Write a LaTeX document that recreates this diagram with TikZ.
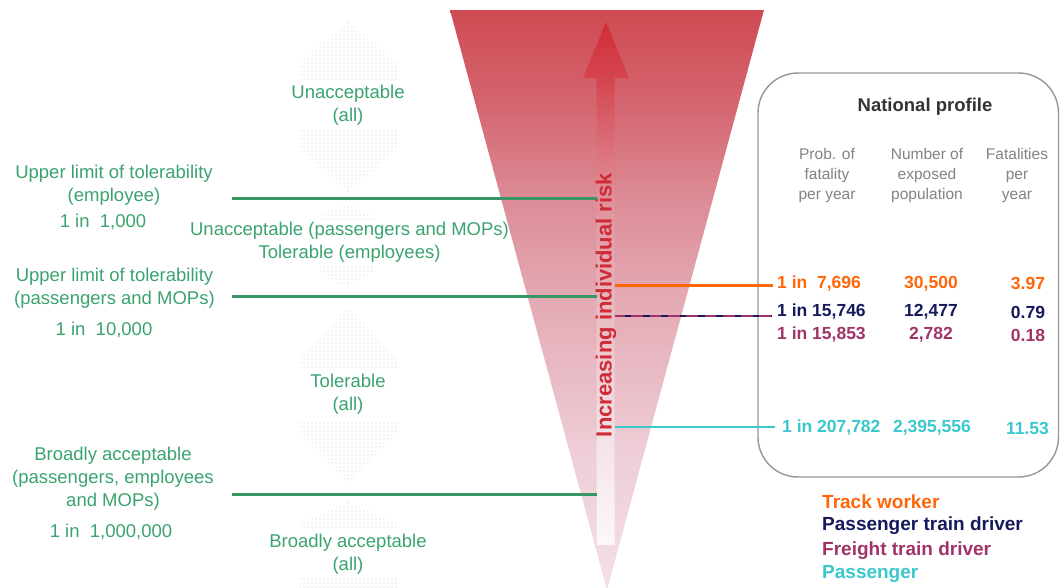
\documentclass[tikz,border=0pt]{standalone}
\usepackage{fontspec}
\setmainfont{Liberation Sans}
\usetikzlibrary{patterns}
\definecolor{grn}{RGB}{58,163,110}
\definecolor{grnline}{RGB}{56,150,100}
\definecolor{trk}{RGB}{255,102,10}
\definecolor{ptd}{RGB}{22,26,92}
\definecolor{ftd}{RGB}{160,52,104}
\definecolor{pas}{RGB}{58,200,205}
\definecolor{riskred}{RGB}{208,44,56}
\definecolor{hdrgray}{RGB}{130,130,130}
\definecolor{boxgray}{RGB}{150,150,150}
\definecolor{fa}{RGB}{207,74,82}
\definecolor{fb}{RGB}{212,100,110}
\definecolor{fc}{RGB}{220,140,150}
\definecolor{fd}{RGB}{228,170,180}
\definecolor{fe}{RGB}{238,205,214}
\definecolor{ff}{RGB}{244,224,233}
\definecolor{aa}{RGB}{208,45,55}
\definecolor{ab}{RGB}{212,70,80}
\definecolor{ac}{RGB}{224,145,155}
\definecolor{ad}{RGB}{232,185,192}
\definecolor{ae}{RGB}{242,222,226}
\definecolor{af}{RGB}{252,248,250}
\pgfdeclareverticalshading{funnelshade}{100bp}{color(0bp)=(ff); color(25bp)=(ff); color(37.07bp)=(fe); color(50bp)=(fd); color(58.62bp)=(fc); color(67.24bp)=(fb); color(75bp)=(fa); color(100bp)=(fa)}
\pgfdeclareverticalshading{arrowshade}{100bp}{color(0bp)=(af); color(25bp)=(af); color(36.95bp)=(ae); color(48.42bp)=(ad); color(57.98bp)=(ac); color(69.45bp)=(ab); color(75bp)=(aa); color(100bp)=(aa)}
\pgfdeclarepatternformonly{sparsedots}{\pgfqpoint{-1pt}{-1pt}}{\pgfqpoint{1pt}{1pt}}{\pgfqpoint{4pt}{4pt}}{\pgfpathcircle{\pgfqpoint{0pt}{0pt}}{.55pt}\pgfusepath{fill}}
\begin{document}
\begin{tikzpicture}[x=1pt,y=-1pt,
  grntext/.style={text=grn, font=\fontsize{18.5}{23}\selectfont, align=center, inner sep=0pt},
  hdr/.style={text=hdrgray, font=\fontsize{15.5}{19.7}\selectfont, align=center, inner sep=0pt},
  val/.style={font=\bfseries\fontsize{17.5}{20}\selectfont, inner sep=0pt},
  legendtext/.style={font=\bfseries\fontsize{19}{24}\selectfont, anchor=west, inner sep=0pt},
  gline/.style={draw=grnline, line width=3pt},
  cline/.style={line width=2.6pt},
  dotzone/.style={pattern=sparsedots, pattern color=black!22},
]
\useasboundingbox (0,0) rectangle (1061,587);

% funnel
\shade[shading=funnelshade] (450,10) -- (764,10) -- (607,590) -- cycle;

% arrow
\shade[shading=arrowshade]
  (606,22) -- (629,78) -- (614.5,78) -- (614.5,545) -- (596.5,545) -- (596.5,78) -- (583,78) -- cycle;
\node[rotate=90, text=riskred, font=\bfseries\fontsize{22}{24}\selectfont, inner sep=0pt] (risk) at (606,305) {Increasing individual risk};

% dotted zones
\fill[dotzone] (348.5,22) -- (397,64) -- (397,80) -- (300,80) -- (300,64) -- cycle;
\fill[dotzone] (300,130) -- (397,130) -- (397,150) -- (348.5,192) -- (300,150) -- cycle;
\fill[dotzone] (347,204) -- (373,217) -- (373,220) -- (320,220) -- (320,217) -- cycle;
\fill[dotzone] (320,265) -- (373,265) -- (373,272) -- (347,288) -- (320,272) -- cycle;
\fill[dotzone] (348.5,307) -- (397,358) -- (397,368) -- (300,368) -- (300,358) -- cycle;
\fill[dotzone] (300,422) -- (397,422) -- (397,434) -- (348.5,483) -- (300,434) -- cycle;
\fill[dotzone] (348.5,502) -- (397,524) -- (397,528) -- (300,528) -- (300,524) -- cycle;
\fill[dotzone] (300,578) -- (397,578) -- (397,587) -- (300,587) -- cycle;

% middle texts
\node[grntext] (z1) at (348,105.5) {Unacceptable\\(all)};
\node[grntext] (z2) at (349.5,242) {Unacceptable (passengers and MOPs)\\Tolerable (employees)};
\node[grntext] (z3) at (348,394) {Tolerable\\(all)};
\node[grntext] (z4) at (348,554) {Broadly acceptable\\(all)};

% left texts
\node[grntext] (l1) at (114,185.5) {Upper limit of tolerability\\(employee)};
\node[grntext] (n1) at (103,222) {1 in\ \ 1,000};
\node[grntext] (l2) at (114.5,288.5) {Upper limit of tolerability\\(passengers and MOPs)};
\node[grntext] (n2) at (104,329.5) {1 in\ \ 10,000};
\node[grntext] (l3) at (113,479) {Broadly acceptable\\(passengers, employees\\and MOPs)};
\node[grntext] (n3) at (111,532) {1 in\ \ 1,000,000};

% green limit lines
\coordinate (g1a) at (232,198.3); \coordinate (g1b) at (596.5,198.3);
\coordinate (g2a) at (232,296.5); \coordinate (g2b) at (596.5,296.5);
\coordinate (g3a) at (232,494.3); \coordinate (g3b) at (596.5,494.3);
\draw[gline] (g1a) -- (g1b);
\draw[gline] (g2a) -- (g2b);
\draw[gline] (g3a) -- (g3b);

% national profile box
\draw[draw=boxgray, line width=1.4pt, rounded corners=40pt] (758,73) rectangle (1058.5,477);
\node[text=black!80, font=\bfseries\fontsize{18.5}{22}\selectfont, inner sep=0pt] (np) at (925,107) {National profile};
\node[hdr] (h1) at (827,175.5) {Prob. of\\fatality\\per year};
\node[hdr] (h2) at (927,175.5) {Number of\\exposed\\population};
\node[hdr] (h3) at (1017,175.5) {Fatalities\\per\\year};

% values
\node[val, text=trk, anchor=west] (t1) at (777,283.5) {1 in\ \ 7,696};
\node[val, text=trk] (t2) at (931,283.5) {30,500};
\node[val, text=trk] (t3) at (1028,283.5) {3.97};
\node[val, text=ptd, anchor=west] (p1) at (777,312) {1 in 15,746};
\node[val, text=ptd] (p2) at (931,312) {12,477};
\node[val, text=ptd] (p3) at (1028,312) {0.79};
\node[val, text=ftd, anchor=west] (f1) at (777,335) {1 in 15,853};
\node[val, text=ftd] (f2) at (931,335) {2,782};
\node[val, text=ftd] (f3) at (1028,335) {0.18};
\node[val, text=pas, anchor=west] (s1) at (782,428) {1 in 207,782};
\node[val, text=pas] (s2) at (932,428) {2,395,556};
\node[val, text=pas] (s3) at (1027.5,428) {11.53};

% coloured connectors
\coordinate (o1) at (614.5,285.5); \coordinate (o2) at (773,285.5);
\coordinate (d1) at (614.5,316); \coordinate (d2) at (772,316);
\coordinate (c1) at (614.5,427); \coordinate (c2) at (775,427);
\draw[cline, draw=trk] (o1) -- (o2);
\draw[cline, draw=ftd] (d1) -- (d2);
\draw[cline, draw=ptd, dash pattern=on 6.5pt off 11.8pt, dash phase=8pt] (d1) -- (d2);
\draw[cline, draw=pas] (c1) -- (c2);

% legend
\node[legendtext, text=trk] (k1) at (822,502) {Track worker};
\node[legendtext, text=ptd] (k2) at (822,526) {Passenger train driver};
\node[legendtext, text=ftd] (k3) at (822,550.5) {Freight train driver};
\node[legendtext, text=pas] (k4) at (822,574) {Passenger};
\end{tikzpicture}
\end{document}
